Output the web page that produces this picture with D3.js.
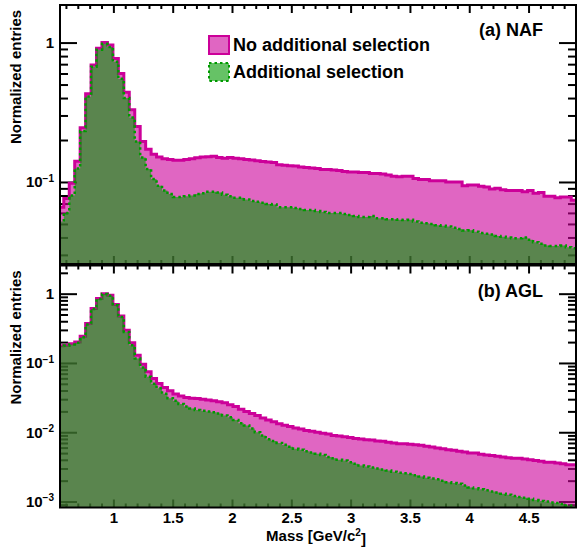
<!DOCTYPE html>
<html>
<head>
<meta charset="utf-8">
<script src="https://cdn.jsdelivr.net/npm/d3@7"></script>
<style>
  body { margin: 0; background: #fff; }
  text { font-family: "Liberation Sans", Arial, Helvetica, sans-serif; font-weight: bold; }
</style>
</head>
<body>
<div id="chart"></div>
<script>
// --------------------------------------
//  Data (normalized entries per mass bin)
// --------------------------------------

const binLow = 0.536;     // GeV/c2, lower edge of first bin
const binWidth = 0.046;   // GeV/c2

const nafNoSel = [0.066, 0.076, 0.098, 0.141, 0.245, 0.43, 0.69, 0.91, 1.0, 0.96,
  0.77, 0.60, 0.44, 0.33, 0.25, 0.195, 0.172, 0.158, 0.151, 0.147,
  0.145, 0.143, 0.143, 0.145, 0.147, 0.149, 0.151, 0.152, 0.153, 0.150,
  0.148, 0.150, 0.148, 0.147, 0.145, 0.144, 0.142, 0.140, 0.139, 0.138,
  0.133, 0.132, 0.131, 0.130, 0.128, 0.127, 0.126, 0.125, 0.123, 0.123,
  0.122, 0.121, 0.119, 0.118, 0.118, 0.117, 0.117, 0.115, 0.115, 0.114,
  0.112, 0.110, 0.109, 0.110, 0.110, 0.106, 0.104, 0.104, 0.102, 0.102,
  0.102, 0.100, 0.100, 0.100, 0.094, 0.095, 0.095, 0.093, 0.092, 0.089,
  0.090, 0.088, 0.087, 0.087, 0.087, 0.085, 0.087, 0.083, 0.084, 0.079,
  0.079, 0.077, 0.078, 0.078, 0.074];

const nafSel = [0.052, 0.060, 0.080, 0.125, 0.232, 0.41, 0.67, 0.89, 0.98, 0.93,
  0.73, 0.55, 0.40, 0.29, 0.195, 0.150, 0.124, 0.105, 0.094, 0.087,
  0.082, 0.078, 0.078, 0.079, 0.080, 0.082, 0.083, 0.085, 0.085, 0.084,
  0.081, 0.079, 0.077, 0.077, 0.075, 0.073, 0.072, 0.071, 0.0695, 0.069,
  0.066, 0.066, 0.066, 0.065, 0.064, 0.063, 0.063, 0.062, 0.061, 0.060,
  0.060, 0.060, 0.059, 0.058, 0.057, 0.056, 0.056, 0.057, 0.055, 0.055,
  0.054, 0.054, 0.0535, 0.0534, 0.0535, 0.052, 0.051, 0.0505, 0.050, 0.049,
  0.0485, 0.048, 0.047, 0.046, 0.0448, 0.045, 0.044, 0.043, 0.0425, 0.042,
  0.041, 0.0405, 0.040, 0.0395, 0.0395, 0.040, 0.0385, 0.037, 0.036, 0.035,
  0.0348, 0.0348, 0.035, 0.034, 0.0335];

const aglNoSel = [0.177, 0.180, 0.19, 0.20, 0.243, 0.37, 0.61, 0.85, 1.0, 0.945,
  0.70, 0.476, 0.296, 0.195, 0.129, 0.096, 0.0744, 0.0597, 0.0506, 0.0443,
  0.0396, 0.0355, 0.0334, 0.0318, 0.031, 0.0308, 0.030, 0.0291, 0.0285, 0.0275,
  0.0266, 0.025, 0.0235, 0.0215, 0.0200, 0.0187, 0.0175, 0.0160, 0.0150, 0.0142,
  0.0133, 0.0126, 0.0121, 0.0115, 0.0111, 0.0106, 0.0103, 0.0100, 0.0097, 0.0094,
  0.0090, 0.0088, 0.0086, 0.0084, 0.0081, 0.0080, 0.0078, 0.0077, 0.0075, 0.0074,
  0.0072, 0.0070, 0.0068, 0.0068, 0.0067, 0.0066, 0.0065, 0.0063, 0.0061, 0.0059,
  0.0058, 0.0056, 0.0055, 0.0053, 0.0052, 0.0050, 0.0050, 0.0048, 0.0047, 0.0046,
  0.0045, 0.0044, 0.0043, 0.0042, 0.0042, 0.0041, 0.0040, 0.0039, 0.0038, 0.0037,
  0.0037, 0.0036, 0.0035, 0.0034, 0.0034];

const aglSel = [0.175, 0.178, 0.185, 0.195, 0.235, 0.36, 0.60, 0.84, 0.99, 0.93,
  0.68, 0.46, 0.28, 0.18, 0.116, 0.086, 0.063, 0.050, 0.043, 0.036,
  0.031, 0.0284, 0.0255, 0.0235, 0.022, 0.0209, 0.0205, 0.020, 0.0195, 0.0187,
  0.0175, 0.0165, 0.0150, 0.0135, 0.0125, 0.0113, 0.0100, 0.0090, 0.0079, 0.0075,
  0.0070, 0.0066, 0.0062, 0.0058, 0.0056, 0.0053, 0.0051, 0.0049, 0.0047, 0.0044,
  0.0042, 0.0040, 0.0039, 0.0037, 0.0035, 0.0033, 0.0032, 0.0031, 0.0030, 0.0029,
  0.0028, 0.0027, 0.0026, 0.00255, 0.0025, 0.0024, 0.0023, 0.0022, 0.00215, 0.0021,
  0.0020, 0.0019, 0.00185, 0.0018, 0.0017, 0.0016, 0.00155, 0.0015, 0.00145, 0.0014,
  0.00135, 0.0013, 0.00125, 0.0012, 0.00116, 0.00113, 0.0011, 0.00105, 0.00102, 0.0010,
  0.00097, 0.00095, 0.00092, 0.00088, 0.00085];

const xMajorTicks = [1, 1.5, 2, 2.5, 3, 3.5, 4, 4.5];
const yLabelsNaf = [0.1, 1];
const yLabelsAgl = [0.001, 0.01, 0.1, 1];
const legendLabels = ["No additional selection", "Additional selection"];
const panelLabels = ["(a) NAF", "(b) AGL"];

// --------------------------------------
//  Canvas
// --------------------------------------

const width = 577;
const height = 551;
const xLeft = 60, xRight = 576;

const pink = {fill: "rgba(204,0,153,0.6)", stroke: "#cc0099"};
const green = {fill: "rgba(0,153,0,0.6)", stroke: "#009a00"};

const svg = d3.select("#chart")
  .append("svg")
    .attr("width", width)
    .attr("height", height);

let x = d3.scaleLinear()
    .domain([0.55, 4.9])
    .range([xLeft, xRight]);

const xMinorTicks = d3.range(6, 50).map(d => d / 10).filter(d => !xMajorTicks.includes(d));

function logTicks(domain) {
  const out = [];
  for (let e = Math.floor(Math.log10(domain[0])); e <= Math.ceil(Math.log10(domain[1])); e++) {
    for (let m = 2; m <= 9; m++) {
      const v = m * Math.pow(10, e);
      if (v >= domain[0] && v <= domain[1]) out.push(v);
    }
  }
  return out;
}

function supLabel(sel) {
  sel.each(function(d) {
    const t = d3.select(this);
    t.text(null);
    if (d === 1) { t.text("1"); return; }
    t.text("10");
    t.append("tspan")
      .attr("dy", "-0.55em")
      .attr("font-size", "10px")
      .text("\u2212" + Math.round(-Math.log10(d)));
  });
}

// --------------------------------------
//  Panels
// --------------------------------------

function drawPanel(id, top, bottom, yDomain, yLabels, noSel, sel, label, showX) {
  const g = svg.append("g");

  let y = d3.scaleLog()
      .domain(yDomain)
      .range([bottom, top])
      .clamp(true);

  g.append("clipPath").attr("id", "clip" + id)
    .append("rect")
      .attr("x", xLeft).attr("y", top)
      .attr("width", xRight - xLeft).attr("height", bottom - top);

  // ticks first, so the transparent fills lie over them
  const minors = logTicks(yDomain);

  g.append("g").attr("transform", `translate(${xLeft},0)`)
    .call(d3.axisLeft(y).tickValues(minors).tickSize(-8).tickFormat(""));
  g.append("g").attr("class", "ylab").attr("transform", `translate(${xLeft},0)`)
    .call(d3.axisLeft(y).tickValues(yLabels).tickSize(-17).tickPadding(6))
    .selectAll(".tick text").call(supLabel);
  g.append("g").attr("transform", `translate(${xRight},0)`)
    .call(d3.axisRight(y).tickValues(minors).tickSize(-8).tickFormat(""));
  g.append("g").attr("transform", `translate(${xRight},0)`)
    .call(d3.axisRight(y).tickValues(yLabels).tickSize(-17).tickFormat(""));

  g.append("g").attr("transform", `translate(0,${top})`)
    .call(d3.axisTop(x).tickValues(xMinorTicks).tickSize(-4).tickFormat(""));
  g.append("g").attr("transform", `translate(0,${top})`)
    .call(d3.axisTop(x).tickValues(xMajorTicks).tickSize(-8).tickFormat(""));
  g.append("g").attr("transform", `translate(0,${bottom})`)
    .call(d3.axisBottom(x).tickValues(xMinorTicks).tickSize(-4).tickFormat(""));
  g.append("g").attr("class", "xlab").attr("transform", `translate(0,${bottom})`)
    .call(d3.axisBottom(x).tickValues(xMajorTicks).tickSize(-8).tickPadding(5)
      .tickFormat(showX ? d3.format("") : ""));

  g.selectAll(".domain").remove();
  g.selectAll(".tick line").attr("stroke", "#000").attr("stroke-width", 2);
  g.selectAll(".ylab text, .xlab text")
    .attr("font-size", "15px")
    .attr("font-family", "'Liberation Sans', Arial, sans-serif")
    .attr("font-weight", "bold")
    .attr("fill", "#000");

  // histograms
  const pts = vals => {
    const p = vals.map((v, i) => [x(binLow + i * binWidth), y(v)]);
    p.push([x(binLow + vals.length * binWidth), y(vals[vals.length - 1])]);
    return p;
  };
  const line = d3.line().curve(d3.curveStepAfter);
  const area = d3.area().curve(d3.curveStepAfter).x(d => d[0]).y0(bottom).y1(d => d[1]);

  const h = g.append("g").attr("clip-path", `url(#clip${id})`);
  h.append("path").attr("d", area(pts(noSel))).attr("fill", pink.fill);
  h.append("path").attr("d", line(pts(noSel)))
    .attr("fill", "none").attr("stroke", pink.stroke).attr("stroke-width", 3);
  h.append("path").attr("d", area(pts(sel))).attr("fill", green.fill);
  h.append("path").attr("d", line(pts(sel)))
    .attr("fill", "none").attr("stroke", green.stroke).attr("stroke-width", 2.5)
    .attr("stroke-dasharray", "2.5,3");

  // frame
  g.append("rect")
    .attr("x", xLeft).attr("y", top)
    .attr("width", xRight - xLeft).attr("height", bottom - top)
    .attr("fill", "none").attr("stroke", "#000").attr("stroke-width", 2);

  // panel label
  g.append("text")
    .attr("x", 543).attr("y", top + 31)
    .attr("text-anchor", "end")
    .attr("font-size", "18px")
    .text(label);

  // y title
  g.append("text")
    .attr("transform", `translate(21,${top + 72}) rotate(-90)`)
    .attr("text-anchor", "middle")
    .attr("font-size", "15px")
    .text("Normalized entries");
}

drawPanel("a", 5, 264, [0.0258, 1.86], yLabelsNaf, nafNoSel, nafSel, panelLabels[0], false);
drawPanel("b", 265.5, 507.5, [0.00082, 2.55], yLabelsAgl, aglNoSel, aglSel, panelLabels[1], true);

// --------------------------------------
//  X title
// --------------------------------------

const xt = svg.append("text")
  .attr("x", 316).attr("y", 541)
  .attr("text-anchor", "middle")
  .attr("font-size", "15px");
xt.append("tspan").text("Mass [GeV/c");
xt.append("tspan").attr("dy", "-0.5em").attr("font-size", "10px").text("2");
xt.append("tspan").attr("dy", "0.5em").text("]");

// --------------------------------------
//  Legend
// --------------------------------------

const legend = svg.append("g").attr("transform", "translate(208,35)");
const styles = [pink, green];

legendLabels.forEach((lab, i) => {
  const row = legend.append("g").attr("transform", `translate(0,${i * 27})`);
  row.append("rect")
    .attr("x", 1).attr("y", 1)
    .attr("width", 20).attr("height", 18)
    .attr("fill", styles[i].fill)
    .attr("stroke", styles[i].stroke)
    .attr("stroke-width", 2)
    .attr("stroke-dasharray", i === 1 ? "2.5,3" : null);
  row.append("text")
    .attr("x", 25).attr("y", 16)
    .attr("font-size", "18px")
    .text(lab);
});
</script>
</body>
</html>
